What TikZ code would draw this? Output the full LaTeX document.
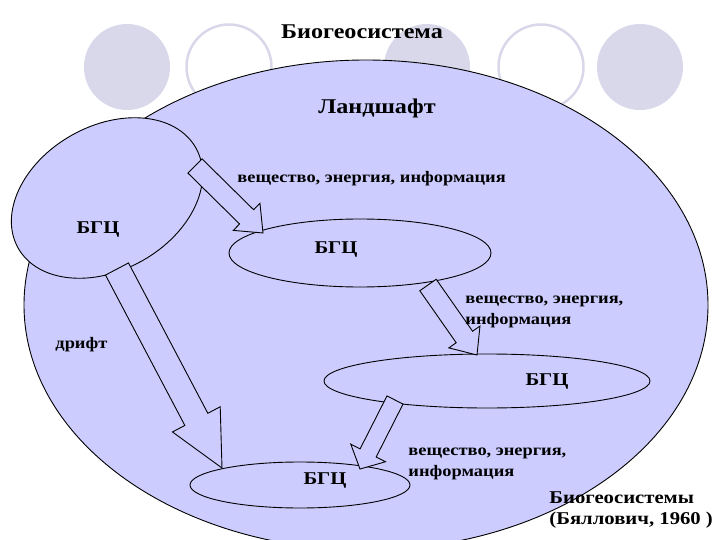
\documentclass[tikz,border=0pt]{standalone}
\usepackage{fontspec}
\setmainfont[FakeStretch=1.15]{Liberation Serif}
\usetikzlibrary{shapes.geometric,calc}

\definecolor{lilac}{RGB}{204,204,255}
\definecolor{pale}{RGB}{216,216,234}

\tikzset{
  zone/.style={draw, ellipse, fill=lilac, inner sep=0pt},
  fat/.style={draw, fill=lilac, line join=miter},
  big/.style={font=\bfseries\fontsize{21}{24}\selectfont, inner sep=0pt},
  bgclabel/.style={font=\bfseries\fontsize{18}{21}\selectfont, inner sep=0pt},
  flow/.style={font=\bfseries\fontsize{16}{21}\selectfont, inner sep=0pt, align=left, anchor=base west},
}

% block arrow: tail, tip, half shaft, half head, head length
\newcommand\fatarrow[5]{%
  \coordinate (hb) at ($(#2)!#5!(#1)$);
  \draw[fat] ($(#1)!#3!90:(#2)$) -- ($(hb)!#3!90:(#2)$) -- ($(hb)!#4!90:(#2)$)
    -- (#2) -- ($(hb)!#4!-90:(#2)$) -- ($(hb)!#3!-90:(#2)$)
    -- ($(#1)!#3!-90:(#2)$) -- cycle;
}

\begin{document}
\begin{tikzpicture}[x=1pt, y=-1pt, line width=0.9pt]
  \useasboundingbox (0,0) rectangle (720,540);
  % background circles
  \foreach \cx in {127,427,640}
    \fill[pale] (\cx,67) circle (43);
  \foreach \cx in {229,541}
    \draw[pale, line width=2.5pt] (\cx,67) circle (42.5);

  \node[zone, minimum width=684pt, minimum height=490pt] (land) at (366,305) {};
  \node[zone, minimum width=204pt, minimum height=144pt, rotate=29.4] (bgc1) at (107,198) {};
  \node[zone, minimum width=262pt, minimum height=68pt] (bgc2) at (360,253) {};
  \node[zone, minimum width=326pt, minimum height=54pt] (bgc3) at (487,381) {};
  \node[zone, minimum width=220pt, minimum height=46pt] (bgc4) at (300,485) {};

  % flows
  \coordinate (a1s) at ($(bgc1.center)+(88,-32)$);
  \coordinate (a1e) at ($(bgc2.center)+(-97,-20)$);
  \coordinate (a2s) at ($(bgc2.center)+(68,32)$);
  \coordinate (a2e) at ($(bgc3.center)+(-10,-26)$);
  \coordinate (a3s) at ($(bgc3.center)+(-92,19)$);
  \coordinate (a3e) at ($(bgc4.center)+(60,-16)$);
  \coordinate (a4s) at ($(bgc1.center)+(10,71)$);
  \coordinate (a4e) at ($(bgc4.center)+(-78,-17)$);
  \fatarrow{a1s}{a1e}{10pt}{19pt}{23pt}
  \fatarrow{a2s}{a2e}{10pt}{19pt}{22pt}
  \fatarrow{a3s}{a3e}{9pt}{19.5pt}{18pt}
  \fatarrow{a4s}{a4e}{13pt}{27pt}{55pt}

  \node[big] (title) at (362,32) {Биогеосистема};
  \node[big] (landname) at (377,108) {Ландшафт};
  \node[bgclabel] (t1) at (98,230) {БГЦ};
  \node[bgclabel] (t2) at (336,250) {БГЦ};
  \node[bgclabel] (t3) at (547,382) {БГЦ};
  \node[bgclabel] (t4) at (325,481) {БГЦ};
  \node[flow] (f1) at (237,183) {вещество, энергия, информация};
  \node[flow] (f2) at (465,324) {вещество, энергия,\\информация};
  \node[flow] (f3) at (408,476) {вещество, энергия,\\информация};
  \node[flow, anchor=west] (drift) at (55,345) {дрифт};
  \node[flow, font=\bfseries\fontsize{18}{21}\selectfont] (src) at (549,524) {Биогеосистемы\\(Бяллович, 1960 )};
\end{tikzpicture}
\end{document}
